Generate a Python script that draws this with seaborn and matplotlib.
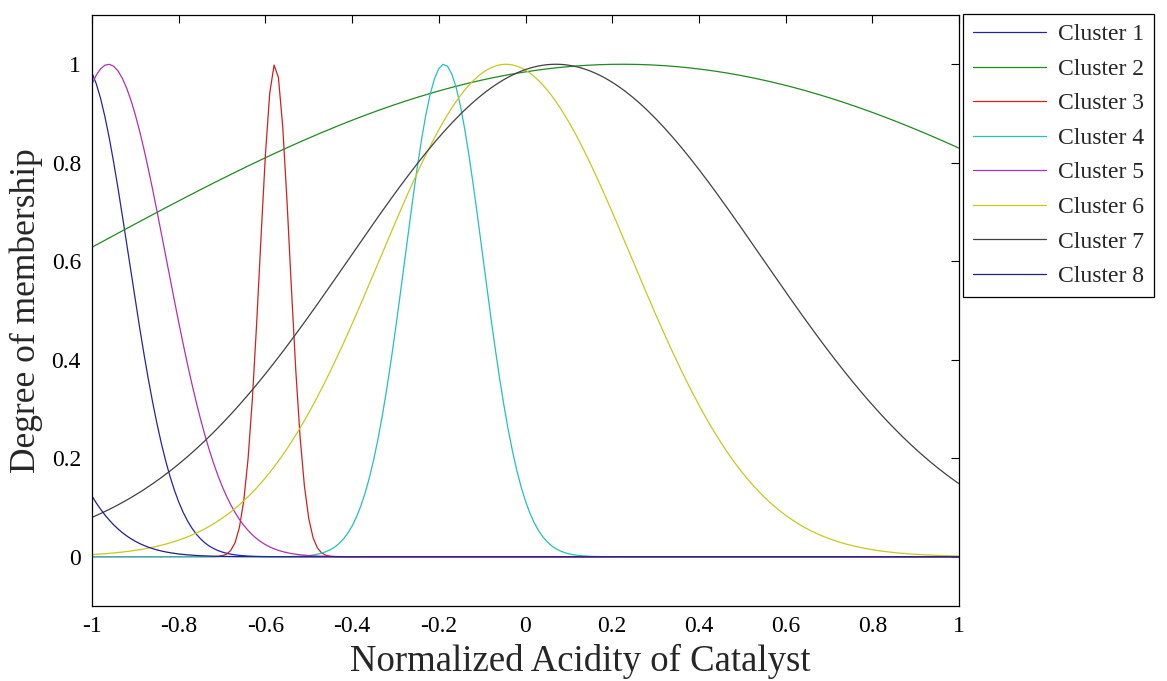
import numpy as np
import pandas as pd
import matplotlib
matplotlib.use("Agg")
import matplotlib.pyplot as plt
import seaborn as sns

# Gaussian membership function parameters
clusters = ["Cluster 1", "Cluster 2", "Cluster 3", "Cluster 4",
            "Cluster 5", "Cluster 6", "Cluster 7", "Cluster 8"]
centers = [-1.02, 0.224, -0.578, -0.188, -0.962, -0.045, 0.07, -1.35]
sigmas = [0.105, 1.27, 0.0345, 0.090, 0.133, 0.29, 0.476, 0.171]
colors = ["#2424a8", "#1f8a1f", "#d02020", "#22c0c0",
          "#b030b0", "#c8c81e", "#404040", "#22227e"]

x_ticks = [-1, -0.8, -0.6, -0.4, -0.2, 0, 0.2, 0.4, 0.6, 0.8, 1]
y_ticks = [0, 0.2, 0.4, 0.6, 0.8, 1]

xs = np.linspace(-1, 1, 201)
frames = []
for name, c, s in zip(clusters, centers, sigmas):
    frames.append(pd.DataFrame({
        "x": xs,
        "y": np.exp(-((xs - c) ** 2) / (2 * s ** 2)),
        "cluster": name,
    }))
df = pd.concat(frames, ignore_index=True)

sns.set_style("white")
plt.rcParams["font.family"] = ["Liberation Serif", "DejaVu Serif"]
plt.rcParams["axes.unicode_minus"] = False

fig = plt.figure(figsize=(11.67, 6.81), dpi=100)
ax = fig.add_axes([92 / 1167, 1 - 606 / 681, (959 - 92) / 1167, (606 - 15) / 681])

sns.lineplot(data=df, x="x", y="y", hue="cluster", hue_order=clusters,
             palette=dict(zip(clusters, colors)), linewidth=0.9, ax=ax,
             sort=False)

ax.set_xlim(-1, 1)
ax.set_ylim(-0.1, 1.1)
ax.set_xticks(x_ticks)
ax.set_yticks(y_ticks)
ax.set_xticklabels([f"{v:g}" for v in x_ticks])
ax.set_yticklabels([f"{v:g}" for v in y_ticks])
ax.tick_params(direction="in", length=6, width=0.8, top=True, right=True,
               labelsize=17, colors="black")
ax.tick_params(axis="x", pad=7)
ax.tick_params(axis="y", pad=8)
for sp in ax.spines.values():
    sp.set_color("black")
    sp.set_linewidth(0.9)
ax.set_xlabel("Normalized Acidity of Catalyst", fontsize=26.5, labelpad=0)
ax.xaxis.set_label_coords((580 - 92) / (959 - 92), -(671 - 606) / 591,
                          transform=ax.transAxes)
ax.xaxis.label.set_verticalalignment("baseline")
ax.set_ylabel("Degree of membership", fontsize=25.5, labelpad=6)

handles, labels = ax.get_legend_handles_labels()
ax.legend(handles, labels, loc="upper left",
          bbox_to_anchor=(963 / 1167, 1 - 14 / 681), bbox_transform=fig.transFigure,
          fontsize=17, frameon=True, fancybox=False, edgecolor="black",
          framealpha=1, handlelength=3.1, labelspacing=0.55, borderpad=0.42,
          handletextpad=0.5, borderaxespad=0)
ax.get_legend().get_frame().set_linewidth(0.9)

fig.savefig("out.png", dpi=100)
